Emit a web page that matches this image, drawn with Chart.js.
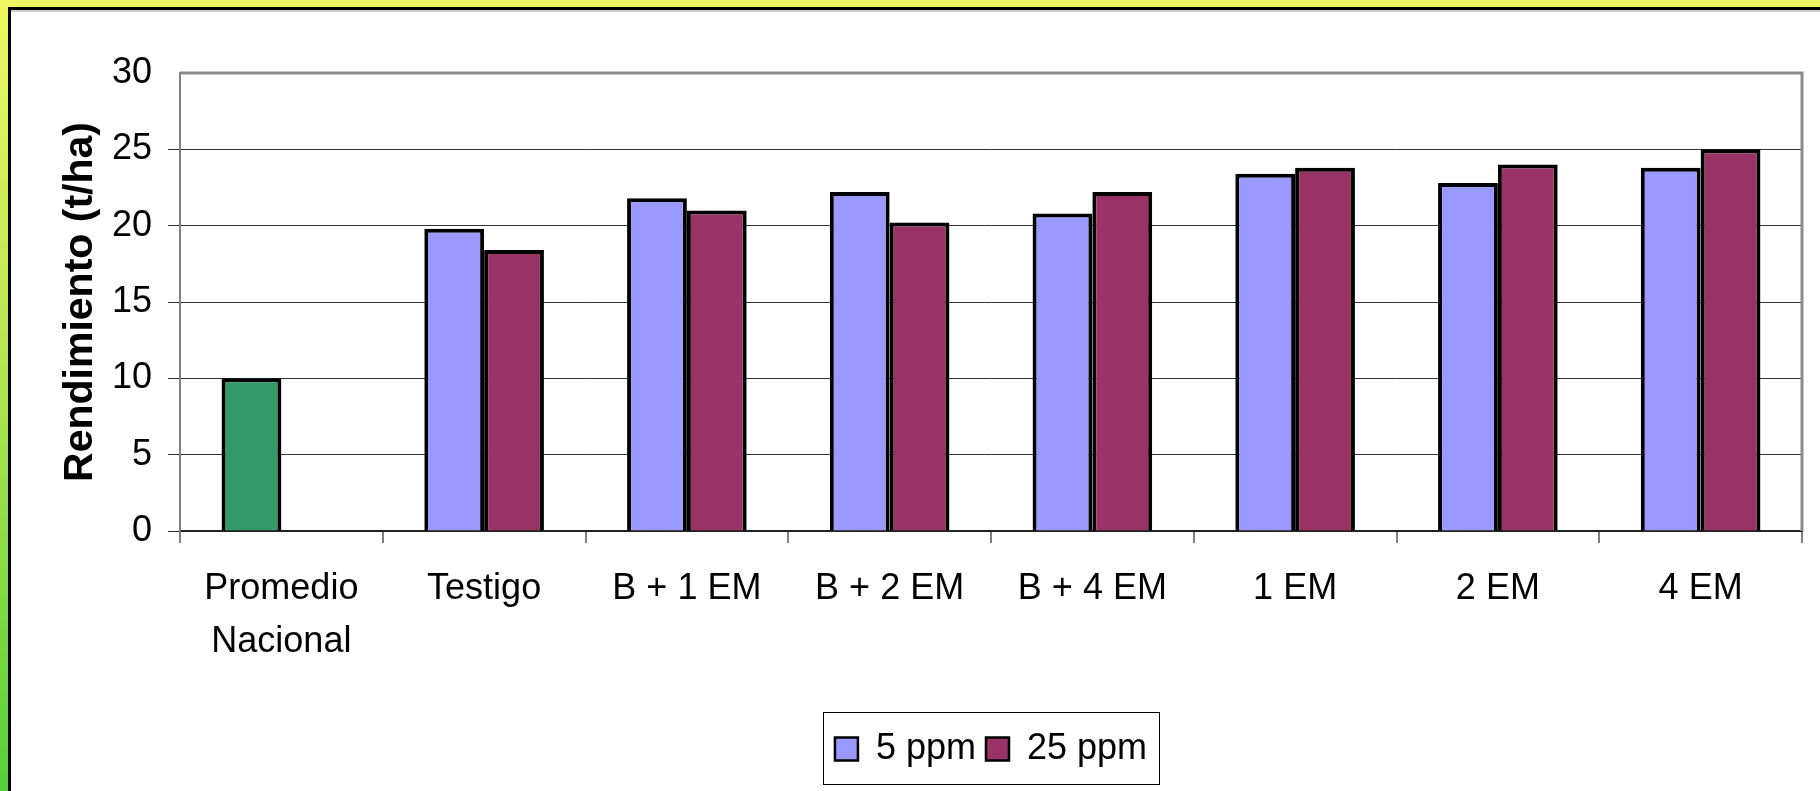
<!DOCTYPE html>
<html>
<head>
<meta charset="utf-8">
<script src="https://cdn.jsdelivr.net/npm/chart.js@4"></script>
<style>
  html, body { margin: 0; padding: 0; width: 1820px; height: 791px; overflow: hidden; }
  body { background: linear-gradient(to bottom, #EEF761 0%, #B5E552 45%, #55CF38 100%); position: relative; }
  #panel { position: absolute; left: 8px; top: 7px; width: 1900px; height: 900px;
           border-left: 3px solid #000; border-top: 3px solid #000; background: #fff;
           box-shadow: inset 0 2px 0 #cfcfcf; }
  #c { position: absolute; left: 0; top: 0; }
</style>
</head>
<body>
<div id="panel"></div>
<canvas id="c" width="1820" height="791"></canvas>
<script>
const categories = [['Promedio', 'Nacional'], 'Testigo', 'B + 1 EM', 'B + 2 EM', 'B + 4 EM', '1 EM', '2 EM', '4 EM'];
const seriesNames = ['5 ppm', '25 ppm'];
const ppm5 = [10, 19.8, 21.8, 22.2, 20.8, 23.4, 22.8, 23.8];
const ppm25 = [null, 18.4, 21.0, 20.2, 22.2, 23.8, 24.0, 25.0];
const yTicks = [0, 5, 10, 15, 20, 25, 30];
const axisTitle = 'Rendimiento (t/ha)';

const COL5 = '#9999FF', COL25 = '#993366', COLPROM = '#339966';
Chart.defaults.font.family = '"Liberation Sans", Arial, sans-serif';
Chart.defaults.color = '#000';

const legendBox = {
  id: 'legendBox',
  afterDraw(chart) {
    const lg = chart.legend;
    if (!lg || !lg.legendHitBoxes || !lg.legendHitBoxes.length) return;
    const hb = lg.legendHitBoxes;
    const first = hb[0], last = hb[hb.length - 1];
    const cy = first.top + first.height / 2;
    const ctx = chart.ctx;
    ctx.save();
    ctx.strokeStyle = '#000';
    ctx.lineWidth = 1;
    const x0 = Math.round(first.left - 12) + 0.5;
    const x1 = Math.round(last.left + last.width + 12) + 0.5;
    ctx.strokeRect(x0, Math.round(cy - 37) + 0.5, x1 - x0, 72);
    ctx.restore();
  }
};
const plotBorder = {
  id: 'plotBorder',
  beforeDatasetsDraw(chart) {
    const a = chart.chartArea, ctx = chart.ctx;
    ctx.save();
    ctx.strokeStyle = '#8a8a8a';
    ctx.lineWidth = 3;
    ctx.beginPath();
    ctx.moveTo(a.left, a.top);
    ctx.lineTo(a.right, a.top);
    ctx.lineTo(a.right, a.bottom);
    ctx.stroke();
    ctx.restore();
  }
};

new Chart(document.getElementById('c'), {
  type: 'bar',
  data: {
    labels: categories,
    datasets: [
      { label: seriesNames[0], data: ppm5,
        backgroundColor: (c) => c.dataIndex === 0 ? COLPROM : COL5,
        borderColor: '#000', borderWidth: 4 },
      { label: seriesNames[1], data: ppm25,
        backgroundColor: COL25, borderColor: '#000', borderWidth: 4 }
    ]
  },
  options: {
    responsive: false,
    animation: false,
    devicePixelRatio: 1,
    categoryPercentage: 0.59,
    barPercentage: 1,
    layout: { padding: { left: 56, right: 18, top: 73, bottom: 14 } },
    plugins: {
      tooltip: { enabled: false },
      legend: {
        position: 'bottom',
        fullSize: false,
        labels: {
          font: { size: 36 },
          boxWidth: 23, boxHeight: 23, padding: 10,
          generateLabels: (chart) => chart.data.datasets.map((d, i) => ({
            text: d.label, fillStyle: i === 0 ? COL5 : COL25,
            strokeStyle: '#000', lineWidth: 2.5, datasetIndex: i, hidden: false
          }))
        }
      }
    },
    scales: {
      x: {
        afterFit: (s) => { s.height = 190; },
        grid: { offset: true, drawOnChartArea: false, drawTicks: true, tickLength: 12, color: '#808080', lineWidth: 2 },
        border: { display: true, color: '#222', width: 2 },
        ticks: { font: { size: 36, lineHeight: 1.46 }, padding: 20, color: '#000', maxRotation: 0, autoSkip: false }
      },
      y: {
        min: 0, max: 30,
        afterFit: (s) => { s.width = 124; },
        afterBuildTicks: (s) => { s.ticks = yTicks.map(v => ({ value: v })); },
        grid: {
          color: (c) => (c.tick && c.tick.value === 30) ? '#8a8a8a' : '#333',
          lineWidth: (c) => (c.tick && c.tick.value === 30) ? 0 : 1,
          tickColor: '#333', tickLength: 12, drawTicks: true
        },
        border: { display: true, color: '#808080', width: 2 },
        ticks: { font: { size: 36 }, padding: 16, color: '#000' },
        title: { display: true, text: axisTitle, font: { size: 41, weight: 'bold' }, padding: 0, color: '#000' }
      }
    }
  },
  plugins: [plotBorder, legendBox]
});
</script>
</body>
</html>
